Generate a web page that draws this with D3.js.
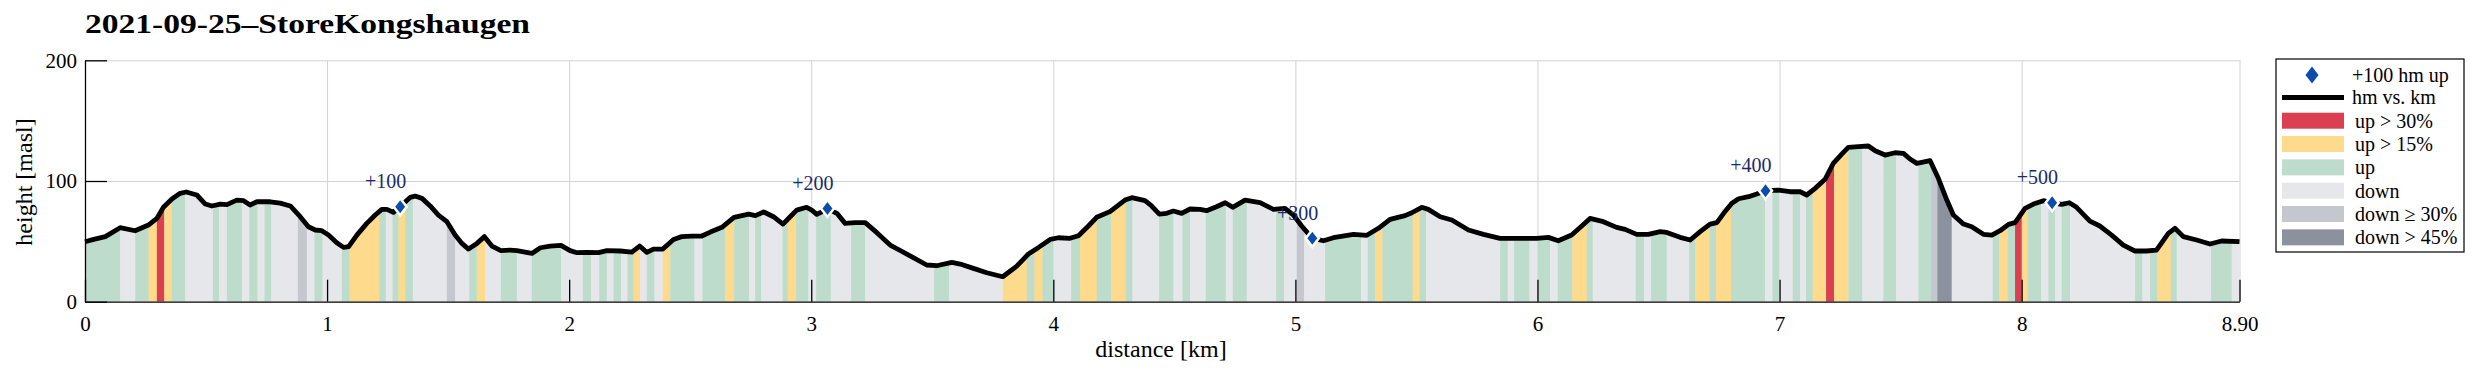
<!DOCTYPE html>
<html>
<head>
<meta charset="utf-8">
<script src="https://cdn.jsdelivr.net/npm/d3@7"></script>
<style>
  body { margin: 0; background: #fff; }
  text { font-family: "Liberation Serif", "DejaVu Serif", serif; }
</style>
</head>
<body>
<div id="vis"></div>
<script>
// profile (distance in km, height in masl)
var distKm = [0, 0.036, 0.084, 0.145, 0.207, 0.262, 0.297, 0.324, 0.359, 0.393, 0.418, 0.462, 0.497, 0.524, 0.559, 0.586, 0.627, 0.655, 0.682, 0.710, 0.765, 0.806, 0.848, 0.889, 0.923, 0.951, 0.978, 1.006, 1.040, 1.068, 1.089, 1.123, 1.164, 1.199, 1.226, 1.247, 1.274, 1.302, 1.343, 1.364, 1.392, 1.426, 1.460, 1.495, 1.529, 1.557, 1.584, 1.619, 1.650, 1.681, 1.718, 1.756, 1.784, 1.846, 1.881, 1.921, 1.966, 2.004, 2.032, 2.073, 2.121, 2.156, 2.211, 2.259, 2.291, 2.321, 2.348, 2.387, 2.431, 2.465, 2.507, 2.548, 2.583, 2.631, 2.681, 2.742, 2.769, 2.804, 2.844, 2.883, 2.913, 2.940, 2.981, 3.002, 3.023, 3.067, 3.106, 3.140, 3.181, 3.223, 3.271, 3.326, 3.395, 3.477, 3.518, 3.581, 3.615, 3.670, 3.725, 3.791, 3.849, 3.897, 3.939, 3.987, 4.021, 4.069, 4.104, 4.145, 4.179, 4.234, 4.269, 4.296, 4.324, 4.379, 4.406, 4.438, 4.468, 4.496, 4.530, 4.565, 4.606, 4.633, 4.674, 4.710, 4.741, 4.792, 4.854, 4.909, 4.957, 4.992, 5.026, 5.070, 5.116, 5.157, 5.240, 5.295, 5.343, 5.391, 5.453, 5.481, 5.522, 5.549, 5.598, 5.646, 5.715, 5.777, 5.845, 5.914, 5.997, 6.045, 6.086, 6.141, 6.183, 6.217, 6.272, 6.327, 6.362, 6.410, 6.458, 6.507, 6.534, 6.589, 6.631, 6.672, 6.713, 6.741, 6.769, 6.803, 6.831, 6.872, 6.906, 6.942, 6.996, 7.043, 7.085, 7.112, 7.147, 7.188, 7.222, 7.257, 7.284, 7.326, 7.367, 7.395, 7.436, 7.477, 7.512, 7.539, 7.567, 7.622, 7.656, 7.691, 7.718, 7.760, 7.794, 7.842, 7.877, 7.911, 7.946, 7.973, 8.014, 8.049, 8.090, 8.126, 8.165, 8.197, 8.227, 8.282, 8.323, 8.372, 8.420, 8.468, 8.516, 8.557, 8.606, 8.633, 8.668, 8.723, 8.778, 8.826, 8.90];
var heightM = [49.7, 51.6, 53.9, 61.3, 58.8, 63.5, 69.0, 78.2, 85.1, 89.8, 90.9, 88.4, 80.9, 79.3, 80.9, 80.4, 84.2, 83.7, 80.1, 82.8, 82.8, 81.7, 79.3, 70.4, 62.1, 59.4, 58.8, 55.2, 48.9, 45.0, 45.6, 55.2, 64.9, 71.8, 76.5, 76.5, 74.0, 79.0, 86.4, 87.5, 85.6, 79.3, 71.8, 66.3, 55.2, 48.3, 43.6, 48.3, 53.9, 46.1, 42.3, 42.8, 42.3, 40.0, 44.7, 46.1, 46.7, 42.3, 40.6, 40.9, 40.6, 42.3, 42.0, 41.1, 46.1, 40.9, 43.6, 43.6, 51.6, 53.9, 54.4, 54.4, 57.7, 61.6, 69.9, 72.6, 71.3, 74.3, 70.4, 64.3, 70.4, 75.9, 78.2, 75.9, 72.4, 77.0, 73.2, 64.9, 65.5, 65.5, 57.2, 46.9, 39.5, 30.4, 29.8, 32.6, 31.2, 27.6, 24.0, 20.7, 29.5, 39.5, 45.0, 51.6, 53.0, 52.5, 54.7, 62.7, 69.9, 74.6, 80.1, 84.2, 86.2, 83.7, 79.3, 72.6, 73.2, 75.1, 73.2, 76.8, 76.5, 75.4, 78.7, 82.0, 78.2, 84.2, 82.0, 76.5, 77.3, 71.8, 62.7, 52.5, 50.5, 53.0, 55.8, 55.0, 60.8, 68.2, 71.3, 73.7, 78.2, 76.5, 70.4, 67.7, 59.4, 55.8, 52.5, 52.5, 52.5, 53.3, 50.5, 55.2, 62.7, 69.0, 66.3, 61.6, 59.9, 55.8, 55.8, 58.0, 57.4, 53.3, 51.1, 58.0, 64.3, 65.5, 73.2, 81.5, 85.3, 87.0, 89.2, 92.0, 92.5, 91.1, 91.1, 88.4, 93.9, 101.4, 114.6, 122.3, 127.9, 128.4, 129.0, 125.1, 121.5, 123.4, 122.9, 118.2, 114.6, 116.8, 102.2, 84.2, 71.8, 64.3, 62.1, 55.8, 55.2, 58.8, 64.1, 65.5, 77.3, 80.9, 83.7, 82.0, 80.6, 82.0, 78.2, 66.8, 62.7, 55.2, 46.9, 42.0, 42.0, 42.8, 56.6, 60.8, 53.9, 51.1, 47.8, 50.3, 49.7];

// slope bands: edges in km, one class per band
var bandEdges = [0, 0.1454, 0.2074, 0.2624, 0.2969, 0.3271, 0.3588, 0.4139, 0.5281, 0.5543, 0.5860, 0.6479, 0.6782, 0.7127, 0.7416, 0.7691, 0.8793, 0.9164, 0.9481, 0.9811, 1.0610, 1.0927, 1.2152, 1.2427, 1.2703, 1.2951, 1.3226, 1.3543, 1.4947, 1.5292, 1.5870, 1.6187, 1.6531, 1.7178, 1.7839, 1.8457, 1.9669, 2.0564, 2.0908, 2.1239, 2.1555, 2.1831, 2.2147, 2.2409, 2.2657, 2.2932, 2.3207, 2.3524, 2.3868, 2.4171, 2.5176, 2.5507, 2.6443, 2.6815, 2.7434, 2.7682, 2.7930, 2.8811, 2.9031, 2.9375, 2.9885, 3.0201, 3.0807, 3.1647, 3.2225, 3.5075, 3.5690, 3.7913, 3.8904, 3.9221, 3.9551, 4.0005, 4.0735, 4.1107, 4.1795, 4.2387, 4.2993, 4.3269, 4.4370, 4.4962, 4.5334, 4.5651, 4.6298, 4.7124, 4.7413, 4.7991, 4.9203, 4.9533, 5.0056, 5.0359, 5.1227, 5.2714, 5.2989, 5.3292, 5.3595, 5.4848, 5.5123, 5.5399, 5.8455, 5.8772, 5.9034, 5.9667, 5.9997, 6.0521, 6.0837, 6.1443, 6.2035, 6.2283, 6.4059, 6.4403, 6.4692, 6.5339, 6.6262, 6.6510, 6.7102, 6.7377, 6.7996, 6.9401, 6.9704, 6.9993, 7.0544, 7.0847, 7.1094, 7.1370, 7.1921, 7.2251, 7.2843, 7.3421, 7.4289, 7.4812, 7.5734, 7.6258, 7.6519, 7.7111, 7.8805, 7.9067, 7.9411, 7.9728, 8.0003, 8.0251, 8.0802, 8.1105, 8.1380, 8.1656, 8.2000, 8.4685, 8.4988, 8.5305, 8.5608, 8.6159, 8.6406, 8.7825, 8.8678, 8.90];
// r: up > 30%, y: up > 15%, g: up, d: down, m: down >= 30%, k: down > 45%
var bandClass = "gdgyrygdgd" + "gdgdgdmdgd" + "gygdgygdmd" + "gydgdgdgdg" + "dgdgydgdyg" +
                "dgygdgdgyg" + "dgdgdgdygy" + "gdgygygdgd" + "gdgdgdgdmd" + "gdgygygdgd" +
                "gdgdgygdgd" + "gdgygygdgd" + "gdgyrygdgd" + "gmkdgygryg" + "dgdgdgdgyg" + "dgd";

// +100 hm markers
var markKm = [1.302, 3.067, 5.070, 6.942, 8.126];
var markH = [78.7, 77.3, 52.5, 92.0, 82.0];
var markLabel = ["+100", "+200", "+300", "+400", "+500"];

// legend classes
var classKeys = ["r", "y", "g", "d", "m", "k"];
var classNames = ["up > 30%", "up > 15%", "up", "down", "down \u2265 30%", "down > 45%"];
var classColors = ["#da4052", "#fdda8c", "#bedccb", "#e6e7eb", "#c4c7ce", "#8b919d"];

var xTicks = [0, 1, 2, 3, 4, 5, 6, 7, 8, 8.9];
var xTickLabels = ["0", "1", "2", "3", "4", "5", "6", "7", "8", "8.90"];
var yTicks = [0, 100, 200];

var W = 2477, H = 375;
var pLeft = 85, pRight = 2239.5, pTop = 60.3, pBottom = 301.7;

var x = d3.scaleLinear().domain([0, 8.9]).range([pLeft, pRight]);
var y = d3.scaleLinear().domain([0, 200]).range([pBottom, pTop]);
var color = d3.scaleOrdinal().domain(classKeys).range(classColors);

var svg = d3.select("#vis").append("svg")
    .attr("width", W)
    .attr("height", H);

var profile = distKm.map(function (d, i) { return {km: d, h: heightM[i]}; });

// grid
svg.append("g")
    .attr("transform", "translate(0," + pBottom + ")")
    .call(d3.axisBottom(x).tickValues(xTicks).tickSize(-(pBottom - pTop)).tickFormat(""))
    .call(function (g) { g.select(".domain").remove(); })
    .selectAll("line").attr("stroke", "#d2d2d2");
svg.append("g")
    .attr("transform", "translate(" + pLeft + ",0)")
    .call(d3.axisLeft(y).tickValues([100, 200]).tickSize(-(pRight - pLeft)).tickFormat(""))
    .call(function (g) { g.select(".domain").remove(); })
    .selectAll("line").attr("stroke", "#d2d2d2");

// area under profile used as clip for the slope bands
var area = d3.area()
    .x(function (d) { return x(d.km); })
    .y0(y(0))
    .y1(function (d) { return y(d.h); });

svg.append("clipPath").attr("id", "under")
    .append("path").attr("d", area(profile));

var bands = bandEdges.slice(0, -1).map(function (e, i) {
    return {x0: e, x1: bandEdges[i + 1], c: bandClass[i]};
});

svg.append("g")
    .attr("clip-path", "url(#under)")
    .selectAll("rect")
    .data(bands)
    .enter().append("rect")
    .attr("x", function (d) { return x(d.x0); })
    .attr("width", function (d) { return x(d.x1) - x(d.x0) + 0.4; })
    .attr("y", pTop)
    .attr("height", pBottom - pTop)
    .attr("fill", function (d) { return color(d.c); });

// profile line
var line = d3.line()
    .x(function (d) { return x(d.km); })
    .y(function (d) { return y(d.h); });

svg.append("path")
    .attr("d", line(profile))
    .attr("fill", "none")
    .attr("stroke", "#000")
    .attr("stroke-width", 4.8)
    .attr("stroke-linejoin", "round");

// markers
var diamond = "M0,-8.5 L6.5,0 L0,8.5 L-6.5,0 Z";
var marks = markKm.map(function (d, i) { return {km: d, h: markH[i], t: markLabel[i]}; });

svg.selectAll(".mark")
    .data(marks)
    .enter().append("path")
    .attr("class", "mark")
    .attr("d", diamond)
    .attr("transform", function (d) { return "translate(" + x(d.km) + "," + y(d.h) + ")"; })
    .attr("fill", "#0c4caa")
    .attr("stroke", "#fff")
    .attr("stroke-width", 2.5);

svg.selectAll(".mlab")
    .data(marks)
    .enter().append("text")
    .attr("class", "mlab")
    .attr("x", function (d) { return x(d.km) + 6; })
    .attr("y", function (d) { return y(d.h) - 18.5; })
    .attr("text-anchor", "end")
    .attr("fill", "#1b2a6b")
    .style("font-size", "20px")
    .text(function (d) { return d.t; });

// axes
var xAxis = svg.append("g")
    .attr("transform", "translate(0," + pBottom + ")")
    .call(d3.axisBottom(x).tickValues(xTicks).tickSizeInner(-22).tickSizeOuter(0).tickPadding(14)
        .tickFormat(function (d, i) { return xTickLabels[i]; }));
var yAxis = svg.append("g")
    .attr("transform", "translate(" + pLeft + ",0)")
    .call(d3.axisLeft(y).tickValues(yTicks).tickSizeInner(-22).tickSizeOuter(0).tickPadding(8));

[xAxis, yAxis].forEach(function (g) {
    g.attr("font-family", null).attr("font-size", null);
    g.select(".domain").attr("stroke", "#000").attr("stroke-width", 1.3);
    g.selectAll(".tick line").attr("stroke", "#000").attr("stroke-width", 1.3);
    g.selectAll(".tick text").attr("fill", "#000").style("font-size", "21px");
});

// labels
svg.append("text")
    .attr("x", 85)
    .attr("y", 33)
    .attr("textLength", 445)
    .attr("lengthAdjust", "spacingAndGlyphs")
    .style("font-size", "28px")
    .style("font-weight", "bold")
    .text("2021-09-25\u2013StoreKongshaugen");

svg.append("text")
    .attr("x", 1161)
    .attr("y", 357)
    .attr("text-anchor", "middle")
    .style("font-size", "24px")
    .text("distance [km]");

svg.append("text")
    .attr("transform", "translate(32,182) rotate(-90)")
    .attr("text-anchor", "middle")
    .style("font-size", "24px")
    .text("height [masl]");

// legend
var leg = svg.append("g");
leg.append("rect")
    .attr("x", 2276).attr("y", 59)
    .attr("width", 188).attr("height", 193)
    .attr("fill", "#fff")
    .attr("stroke", "#000")
    .attr("stroke-width", 1.2);

leg.append("path")
    .attr("d", diamond)
    .attr("transform", "translate(2312,75)")
    .attr("fill", "#0c4caa");
leg.append("text").attr("x", 2352).attr("y", 82).style("font-size", "20px").text("+100 hm up");

leg.append("line")
    .attr("x1", 2282).attr("x2", 2344)
    .attr("y1", 97.5).attr("y2", 97.5)
    .attr("stroke", "#000").attr("stroke-width", 5);
leg.append("text").attr("x", 2352).attr("y", 104).style("font-size", "20px").text("hm vs. km");

var rows = leg.selectAll(".row")
    .data(classKeys)
    .enter().append("g")
    .attr("class", "row")
    .attr("transform", function (d, i) { return "translate(0," + (120.7 + i * 23.33) + ")"; });
rows.append("rect")
    .attr("x", 2282).attr("y", -8)
    .attr("width", 62).attr("height", 16)
    .attr("fill", function (d) { return color(d); });
rows.append("text")
    .attr("x", 2355).attr("y", 7)
    .style("font-size", "20px")
    .text(function (d, i) { return classNames[i]; });
</script>
</body>
</html>
